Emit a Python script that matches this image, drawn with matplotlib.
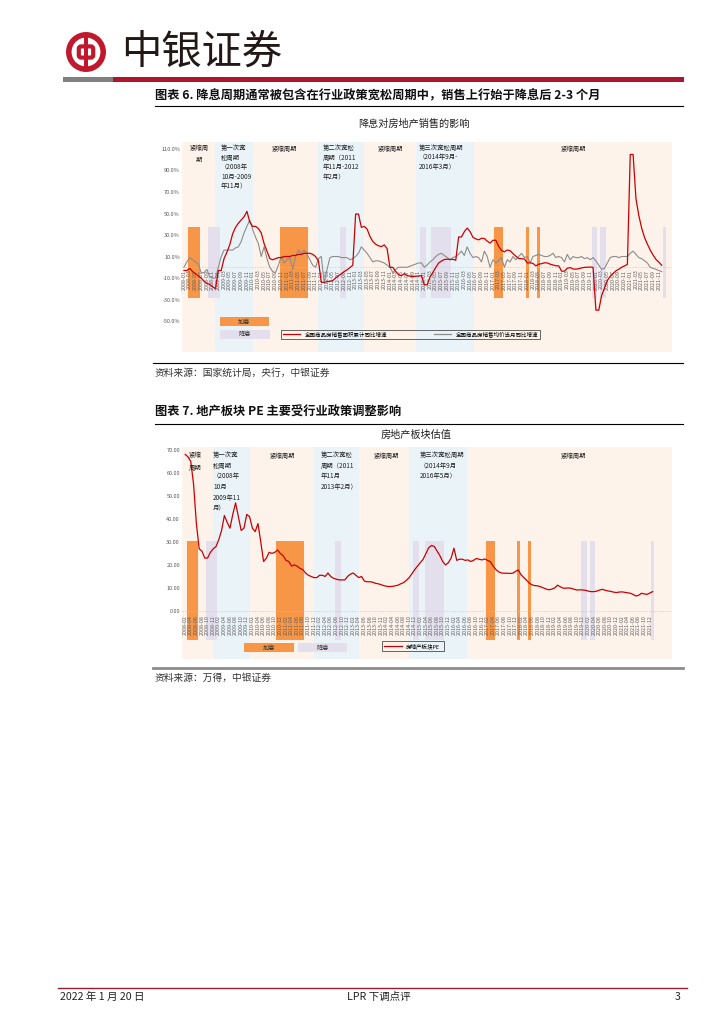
import matplotlib
matplotlib.use("Agg")
import matplotlib.pyplot as plt
from matplotlib.patches import Rectangle, Circle, FancyBboxPatch
from matplotlib.lines import Line2D

plt.rcParams['font.family'] = ['Noto Sans CJK SC', 'DejaVu Sans']

W, H = 725, 1024


def fx(px):
    return px / W


def fy(py):
    return 1 - py / H


################ data ################
years = list(range(2008, 2022))
month_labels = [f"{y}-{m:02d}" for y in years for m in range(1, 13)]

# 全国商品房销售面积累计同比增速 (%), 2008-01 .. 2021-12
sales_area = [
    -3, -3, -1, -4, -6, -8, -10, -13, -15, -16, -18, -20,          # 2008
    -3, -3, 8, 14, 21, 31, 37, 41, 44, 47, 52, 42,                 # 2009
    38, 38, 36, 32, 22, 15, 8, 7, 8, 9, 9, 10,                     # 2010
    10, 10, 11, 11, 12, 12, 13, 13, 13, 12, 10, 6,                 # 2011
    -14, -14, -13.4, -13, -12.4, -10, -7.8, -6.1, -4, -2.4, -0.3, 1.8,   # 2012
    49.5, 49.5, 37.1, 38, 35.6, 28.7, 24, 21.4, 20, 19.2, 20.8, 17.3,    # 2013
    -0.1, -0.1, -3.8, -6.8, -7.8, -6, -7.6, -8.3, -8.6, -8.3, -8.2, -7.6,  # 2014
    -16.3, -16.3, -9.2, -4.8, -0.2, 3.9, 5.8, 7.2, 7.5, 7.2, 7.4, 6.5,   # 2015
    28.2, 28.2, 33.1, 36.5, 33.2, 27.9, 26.4, 25.5, 26.9, 26.8, 24.3, 22.5,  # 2016
    25.1, 25.1, 19.5, 15.7, 14.3, 16.1, 15.4, 12.7, 10.3, 8.2, 7.9, 7.7,  # 2017
    4.1, 4.1, 3.6, 1.3, 2.9, 3.3, 4.2, 4, 2.9, 2.2, 1.4, 1.3,            # 2018
    -3.6, -3.6, -0.9, -0.3, -1.6, -1.8, -1.3, -0.6, -0.1, 0.1, 0.2, -0.1,  # 2019
    -39.9, -39.9, -26.3, -19.3, -12.3, -8.4, -5.8, -3.3, -1.8, 0, 1.3, 2.6,  # 2020
    104.9, 104.9, 63.8, 48.1, 36.3, 27.7, 21.5, 15.9, 11.3, 7.3, 4.8, 1.9,  # 2021
]

# 全国商品房销售均价当月同比增速 (%)
price_yoy = [
    0, 5, 9, 7, 5, 3, -5, -5, -2, -9, -10, -10,      # 2008
    0, 10, 16, 16, 16, 16, 18, 19, 24, 32, 38, 44,   # 2009
    35, 28, 22, 10, 19, 8, 0, -4, -5, 2, 10, 4,      # 2010
    7, 9, -2, 10, 16, 13, 16, 12, 7, 2, 0, 8,        # 2011
    10, -14, -2, 9, 10, 10, 10, 9, 9, 9, 7, 8,       # 2012
    10, 13, 19, 16, 13, 9, 5, 6, 6, 5, 4, 2,         # 2013
    0, -5, -2, 0, 0, 0, 0, 1, 2, 3, 4, 4,            # 2014
    0, 2, 5, 7, 10, 12, 13, 11, 9, 7, 9, 10,         # 2015
    12, 15, 11, 19, 13, 9, 10, 9, 5, 15, 10, 0,      # 2016
    7, 4, 6, 9, 0, 7, 5, 10, 7, 10, 13, 9,           # 2017
    10, 4, 10, 11, 12, 11, 10, 10, 11, 13, 9, 10,    # 2018
    9, 5, 12, 7, 10, 9, 9, 10, 8, 9, 7, 9,           # 2019
    6, 2, -2, -1, 4, 9, 10, 10, 9, 10, 10, 10,       # 2020
    13, 15, 12, 9, 8, 6, 4, 0, -1, -2, -3, -4,       # 2021
]

# 房地产板块PE, 2008-02 .. 2022-01
pe = [
    68.1, 67, 65, 55, 38, 27, 26, 23, 23, 25.5, 27,             # 2008
    28, 31, 35, 41.5, 38.5, 36, 42, 47, 41, 35, 36, 42,         # 2009
    41, 36, 34.5, 38, 30, 21.5, 23, 25.5, 25, 25.5, 26.5, 25,   # 2010
    24, 22, 21.5, 19.5, 20, 19.5, 18.5, 18, 16.5, 15.5, 15, 14.5,  # 2011
    14.5, 15.5, 15.5, 15, 16.5, 15, 14.2, 13.8, 13.5, 13.5, 13.5, 15,  # 2012
    16, 16.5, 15.5, 14.5, 15, 13, 12.7, 12.7, 12.5, 12, 11.8, 11.4,  # 2013
    11, 10.7, 10.6, 10.7, 10.9, 11.2, 11.8, 12.3, 13.3, 14.5, 16.2, 18,  # 2014
    19.5, 21, 22.5, 25, 27.5, 28.5, 28, 26, 24, 21.5, 20, 21,   # 2015
    23, 27.3, 22, 22.5, 22.5, 22, 22.2, 21.5, 22, 22.8, 22.5, 22.2,  # 2016
    22.6, 22, 21.4, 19.5, 18, 17, 16.5, 16.4, 16.4, 16.3, 16.4, 17.2,  # 2017
    17.8, 15.7, 14.5, 13.3, 12, 11.3, 11, 10.9, 10.5, 10, 9.5, 9.2,  # 2018
    9.5, 10, 11.2, 10.5, 9.9, 9.9, 10, 9.8, 9.4, 9.1, 9.2, 9.1,  # 2019
    9, 8.6, 8.4, 8.4, 8.6, 9.1, 9.4, 9, 8.7, 8.5, 8.2, 8,       # 2020
    8.2, 8.3, 8.1, 7.9, 7.7, 7.2, 6.5, 6.8, 7.7, 7.4, 7.2, 7.8, 8.4,  # 2021-2022.01
]

# 加息 / 降息 月份（以2008年1月为0）
hike_months = [2, 3, 4, 5, 34, 35, 36, 37, 38, 39, 40, 41, 42, 43, 109, 110, 111, 120, 124]
cut_months = [9, 10, 11, 12, 55, 56, 83, 84, 87, 88, 89, 90, 91, 92, 93, 143, 144, 146, 147, 168]
# 宽松周期（月份区间）
easing_cycles = [(11, 24), (47, 63), (81, 101.5)]

ORANGE = '#F79646'
PURPLE = '#E4DFEC'
TIGHT_BG = '#FDF3EA'
EASE_BG = '#EAF4F8'
RED = '#CC0000'
GRAY = '#8C8C8C'
LOGO = '#C0182D'

fig = plt.figure(figsize=(7.25, 10.24), dpi=100)

####### header ####################
logo_ax = fig.add_axes([fx(65), fy(73), 42 / W, 42 / H])
logo_ax.set_xlim(-1.05, 1.05)
logo_ax.set_ylim(-1.05, 1.05)
logo_ax.set_aspect('equal')
logo_ax.axis('off')
logo_ax.add_patch(Circle((0, 0), 0.86, fill=False, ec=LOGO, lw=4.0))
logo_ax.add_patch(FancyBboxPatch((-0.36, -0.28), 0.72, 0.56,
                                 boxstyle='round,pad=0,rounding_size=0.12',
                                 fill=False, ec=LOGO, lw=3.0))
logo_ax.add_patch(Rectangle((-0.09, -0.86), 0.18, 1.72, color=LOGO, lw=0))

fig.text(fx(121), fy(52), '中银证券', fontsize=29, color='#231815', ha='left', va='center')
fig.add_artist(Rectangle((fx(63), fy(82)), 50 / W, 5 / H, color='#808080', lw=0,
                         transform=fig.transFigure))
fig.add_artist(Rectangle((fx(113), fy(82)), 571 / W, 5 / H, color='#B01530', lw=0,
                         transform=fig.transFigure))


def hline(y, x0, x1, color='black', lw=0.8):
    fig.add_artist(Line2D([fx(x0), fx(x1)], [fy(y), fy(y)], color=color, lw=lw,
                          transform=fig.transFigure))


####### figure titles ####################
fig.text(fx(155), fy(96), '图表 6. 降息周期通常被包含在行业政策宽松周期中，销售上行始于降息后 2-3 个月',
         fontsize=8.8, weight='bold', ha='left', va='center', color='#111111')
hline(106, 155, 683)
fig.text(fx(155), fy(412), '图表 7. 地产板块 PE 主要受行业政策调整影响',
         fontsize=8.8, weight='bold', ha='left', va='center', color='#111111')
hline(424, 155, 683)


def base_panel(ax, xlim, ylim, bar_lo, bar_hi):
    ax.set_xlim(*xlim)
    ax.set_ylim(*ylim)
    ax.set_facecolor(TIGHT_BG)
    for a, b in easing_cycles:
        ax.axvspan(a, b, color=EASE_BG, lw=0, zorder=0)
    ax.bar(hike_months, bar_hi - bar_lo, bottom=bar_lo, width=1.02,
           color=ORANGE, lw=0, zorder=1)
    ax.bar(cut_months, bar_hi - bar_lo, bottom=bar_lo, width=1.02,
           color=PURPLE, lw=0, zorder=1)
    ax.axhline(0, color='#C8C8C8', lw=0.5, ls=(0, (2, 2)), zorder=1.5)
    for s in ax.spines.values():
        s.set_visible(False)
    ax.set_xticks([])
    ax.tick_params(axis='y', length=0, pad=1.5, labelsize=4, labelcolor='#595959')


def date_labels(ax, start, offset):
    for m in range(start, 168, 2):
        ax.text(m, offset, month_labels[m], rotation=90, ha='center', va='top',
                fontsize=3.9, color='#606060', zorder=2)


def box(x0, y0, x1, y1, color, label):
    fig.add_artist(Rectangle((fx(x0), fy(y1)), (x1 - x0) / W, (y1 - y0) / H,
                             color=color, lw=0, transform=fig.transFigure))
    fig.text(fx((x0 + x1) / 2), fy((y0 + y1) / 2), label, fontsize=4.5,
             ha='center', va='center', color='#333333')


def note(x, y, s, ha='left', ls=1.25):
    fig.text(fx(x), fy(y), s, fontsize=4.6, ha=ha, va='top', color='#222222',
             linespacing=ls, multialignment='left' if ha == 'left' else 'center')


####### chart 1 ####################
fig.text(fx(414), fy(124), '降息对房地产销售的影响', fontsize=7.3, ha='center',
         va='center', color='#222222')
ax1 = fig.add_axes([fx(182), fy(352), 490 / W, 210 / H])
base_panel(ax1, (-0.7, 170.6), (-78.8, 116.5), -28.4, 37.7)
months = list(range(len(sales_area)))
ax1.plot(months, price_yoy, color=GRAY, lw=0.8, zorder=3)
ax1.plot(months, sales_area, color=RED, lw=0.9, zorder=4)
y1_ticks = [110, 90, 70, 50, 30, 10, -10, -30, -50]
ax1.set_yticks(y1_ticks)
ax1.set_yticklabels([f'{v:.1f}%' for v in y1_ticks])
date_labels(ax1, 0, -2.3)

note(199, 144, '紧缩周\n期', ha='center', ls=1.7)
note(221, 144, '第一次宽\n松周期\n（2008年\n10月-2009\n年11月）')
note(284, 145, '紧缩周期', ha='center')
note(323, 144, '第二次宽松\n周期（2011\n年11月-2012\n年2月）')
note(390, 145, '紧缩周期', ha='center')
note(419, 144, '第三次宽松周期\n（2014年9月-\n2016年3月）')
note(573, 145, '紧缩周期', ha='center')

box(220, 317, 269, 326, ORANGE, '加息')
box(220, 330, 270, 339, PURPLE, '降息')
h1 = [Line2D([], [], color=RED, lw=0.9), Line2D([], [], color=GRAY, lw=0.9)]
leg1 = ax1.legend(h1, ['全国商品房销售面积累计同比增速', '全国商品房销售均价当月同比增速'],
                  loc='center', bbox_to_anchor=(fx(278), fy(340), 265 / W, 11 / H),
                  bbox_transform=fig.transFigure, mode='expand', ncol=2, fontsize=4,
                  frameon=True, fancybox=False, edgecolor='#222222', facecolor='none',
                  handlelength=3.2, borderpad=0.35, columnspacing=2)
leg1.get_frame().set_linewidth(0.6)

hline(363, 153, 683)
fig.text(fx(155), fy(373), '资料来源：国家统计局，央行，中银证券', fontsize=7,
         ha='left', va='center', color='#333333')

####### chart 2 ####################
fig.text(fx(416), fy(435), '房地产板块估值', fontsize=7.3, ha='center', va='center',
         color='#222222')
ax2 = fig.add_axes([fx(182), fy(659), 490 / W, 212 / H])
base_panel(ax2, (-0.14, 174.9), (-20.9, 71.3), -12.6, 30.4)
pe_months = list(range(1, len(pe) + 1))
ax2.plot(pe_months, pe, color=RED, lw=0.9, zorder=4)
y2_ticks = [70, 60, 50, 40, 30, 20, 10, 0]
ax2.set_yticks(y2_ticks)
ax2.set_yticklabels([f'{v:.2f}' for v in y2_ticks])
date_labels(ax2, 1, -1.7)

note(195, 451, '紧缩\n周期', ha='center', ls=1.8)
note(213, 451, '第一次宽\n松周期\n（2008年\n10月\n2009年11\n月）', ls=1.45)
note(282, 452, '紧缩周期', ha='center')
note(321, 451, '第二次宽松\n周期（2011\n年11月\n2013年2月）', ls=1.45)
note(386, 452, '紧缩周期', ha='center')
note(420, 451, '第三次宽松周期\n（2014年9月\n2016年5月）', ls=1.45)
note(573, 452, '紧缩周期', ha='center')

box(244, 643, 294, 652, ORANGE, '加息')
box(298, 643, 347, 652, PURPLE, '降息')
leg2 = ax2.legend([Line2D([], [], color=RED, lw=0.9)], ['房地产板块PE'],
                  loc='center', bbox_to_anchor=(fx(379), fy(652), 68 / W, 12 / H),
                  bbox_transform=fig.transFigure, mode='expand', fontsize=4,
                  frameon=True, fancybox=False, edgecolor='#222222', facecolor='none',
                  handlelength=3.2, borderpad=0.4)
leg2.get_frame().set_linewidth(0.6)

hline(668, 153, 683, color='#8C8C8C', lw=2)
fig.text(fx(155), fy(678), '资料来源：万得，中银证券', fontsize=7, ha='left',
         va='center', color='#333333')

####### footer ####################
hline(988, 58, 687, color='#9E1B32', lw=1)
fig.text(fx(60), fy(997), '2022 年 1 月 20 日', fontsize=7.6, ha='left', va='center',
         color='#222222')
fig.text(fx(379), fy(997), 'LPR 下调点评', fontsize=7.6, ha='center', va='center',
         color='#222222')
fig.text(fx(681), fy(997), '3', fontsize=7.6, ha='right', va='center', color='#222222')

fig.savefig('out.png', dpi=100)
